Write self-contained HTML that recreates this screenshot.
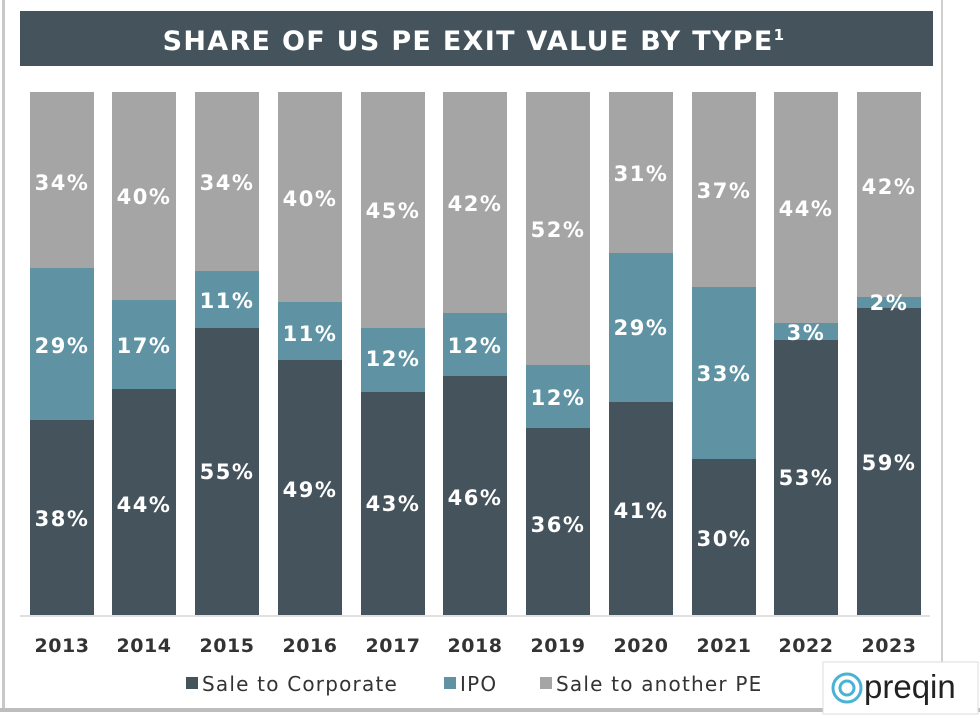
<!DOCTYPE html>
<html><head><meta charset="utf-8"><style>
html,body{margin:0;padding:0;background:#fff;}
svg{display:block;}
</style></head><body>
<svg width="980" height="720" xmlns="http://www.w3.org/2000/svg" font-family="DejaVu Sans, Verdana, sans-serif">
<rect width="980" height="720" fill="#fff"/>
<rect x="2" y="0" width="3" height="712" fill="#c8c8c8"/>
<rect x="941" y="0" width="2" height="665" fill="#d0d0d0"/>
<rect x="0" y="708" width="980" height="4" fill="#bdbdbd"/>
<rect x="20" y="11" width="913" height="55" fill="#44535c"/>
<text x="474" y="50" text-anchor="middle" fill="#fff" font-weight="bold" font-size="27" letter-spacing="1.3">SHARE OF US PE EXIT VALUE BY TYPE<tspan font-size="15" dy="-10">1</tspan></text>
<line x1="20" y1="616" x2="930" y2="616" stroke="#e0e0e0" stroke-width="2"/>
<g id="bars"></g>
<g font-size="19" fill="#333" font-weight="bold" text-anchor="middle" letter-spacing="0.5" id="years"></g>
<g font-size="20" fill="#333" letter-spacing="1.2">
<rect x="186" y="677" width="12" height="12" fill="#44535c"/><text x="202" y="691">Sale to Corporate</text>
<rect x="444" y="677" width="12" height="12" fill="#5f93a3"/><text x="460" y="691">IPO</text>
<rect x="540" y="677" width="12" height="12" fill="#a5a5a5"/><text x="556" y="691">Sale to another PE</text>
</g>
<rect x="823" y="662" width="155" height="52" fill="#fff" stroke="#ddd"/>
<circle cx="847" cy="688" r="14" fill="none" stroke="#4ab3d4" stroke-width="3"/>
<circle cx="847" cy="688" r="7" fill="none" stroke="#4ab3d4" stroke-width="3"/>
<text x="864" y="698" font-size="33" fill="#222" font-family="Liberation Sans, sans-serif">preqin</text>
</svg>
<script>
var xs=[30,112,195,278,361,443,526,609,692,774,857];
var d=[[268,420],[300,389],[271,328],[302,360],[328,392],[313,376],[365,428],[253,402],[287,459],[323,340],[297,308]];
var lab=[[34,29,38],[40,17,44],[34,11,55],[40,11,49],[45,12,43],[42,12,46],[52,12,36],[31,29,41],[37,33,30],[44,3,53],[42,2,59]];
var ly=[[182,345,518],[196,345,504],[182,300,471],[198,333,489],[210,358,503],[203,345,497],[229,397,524],[173,327,510],[190,373,538],[208,332,477],[186,302,462]];
var yrs=[2013,2014,2015,2016,2017,2018,2019,2020,2021,2022,2023];
var s='',t='';
for(var i=0;i<11;i++){var x=xs[i],w=64;
s+='<rect x="'+x+'" y="92" width="'+w+'" height="'+(d[i][0]-92)+'" fill="#a5a5a5"/>';
s+='<rect x="'+x+'" y="'+d[i][0]+'" width="'+w+'" height="'+(d[i][1]-d[i][0])+'" fill="#5f93a3"/>';
s+='<rect x="'+x+'" y="'+d[i][1]+'" width="'+w+'" height="'+(615-d[i][1])+'" fill="#44535c"/>';
for(var k=0;k<3;k++)s+='<text x="'+(x+32)+'" y="'+(ly[i][k]+8)+'" text-anchor="middle" fill="#fff" font-weight="bold" font-size="21" letter-spacing="1.5">'+lab[i][k]+'%</text>';
t+='<text x="'+(x+32)+'" y="652">'+yrs[i]+'</text>';}
document.getElementById('bars').innerHTML=s;
document.getElementById('years').innerHTML=t;
</script>
</body></html>
